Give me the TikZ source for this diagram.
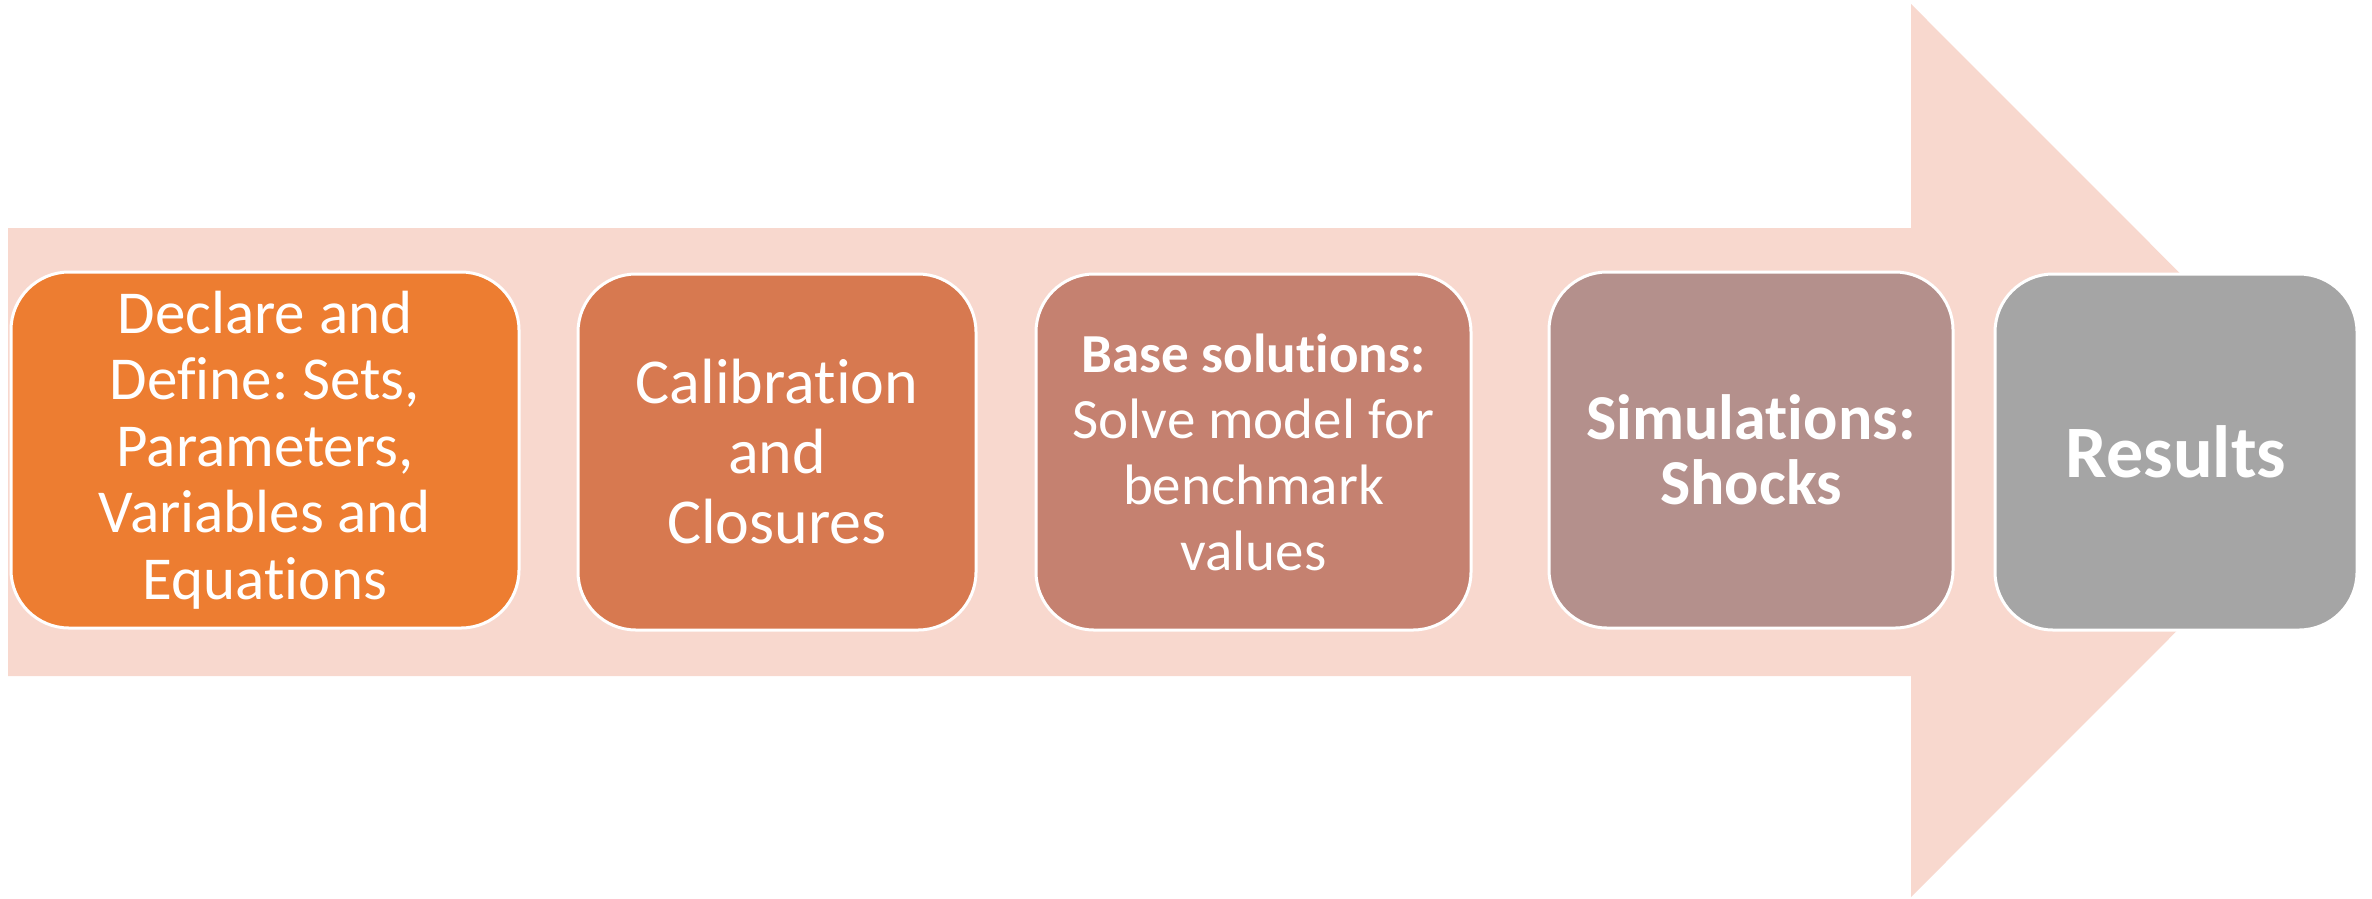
\documentclass[tikz,border=0pt]{standalone}
\usepackage{fontspec}
\setmainfont{Carlito}[Ligatures=NoCommon]
\definecolor{arrowc}{HTML}{F8D8CE}
\definecolor{cA}{HTML}{ED7D31}
\definecolor{cB}{HTML}{D77950}
\definecolor{cC}{HTML}{C58170}
\definecolor{cD}{HTML}{B4908C}
\definecolor{cE}{HTML}{A5A5A5}
\begin{document}
\frenchspacing
\begin{tikzpicture}[x=1pt,y=-1pt,
  stagebox/.style={draw=white, line width=3pt, rounded corners=58pt,
    minimum height=356pt, inner sep=0pt, align=center, text=white}]
\useasboundingbox (0,0) rectangle (2372,898);
\fill[arrowc] (8,228) -- (1911,228) -- (1911,4) -- (2357,450.5) -- (1911,897) -- (1911,676) -- (8,676) -- cycle;
\node[stagebox, fill=cA, minimum width=508pt, font=\fontsize{61}{66.5}\selectfont] (b1) at (265,450)
  {Declare and\\Define: Sets,\\Parameters,\\Variables and\\Equations};
\node[stagebox, fill=cB, minimum width=398pt, font=\fontsize{64}{70}\selectfont] (b2) at (777,452)
  {Calibration\\and\\Closures};
\node[stagebox, fill=cC, minimum width=435pt, font=\fontsize{57}{66}\selectfont] (b3) at (1253.5,452)
  {{\fontsize{55}{66}\selectfont\textbf{Base solutions:}}\\Solve model for\\benchmark\\values};
\node[stagebox, fill=cD, minimum width=404pt, font=\fontsize{64}{65}\selectfont] (b4) at (1751,450)
  {\textbf{Simulations:}\\\textbf{Shocks}};
\node[stagebox, fill=cE, minimum width=362pt, font=\fontsize{74}{80}\selectfont] (b5) at (2176,452)
  {\textbf{Results}};
\end{tikzpicture}
\end{document}
